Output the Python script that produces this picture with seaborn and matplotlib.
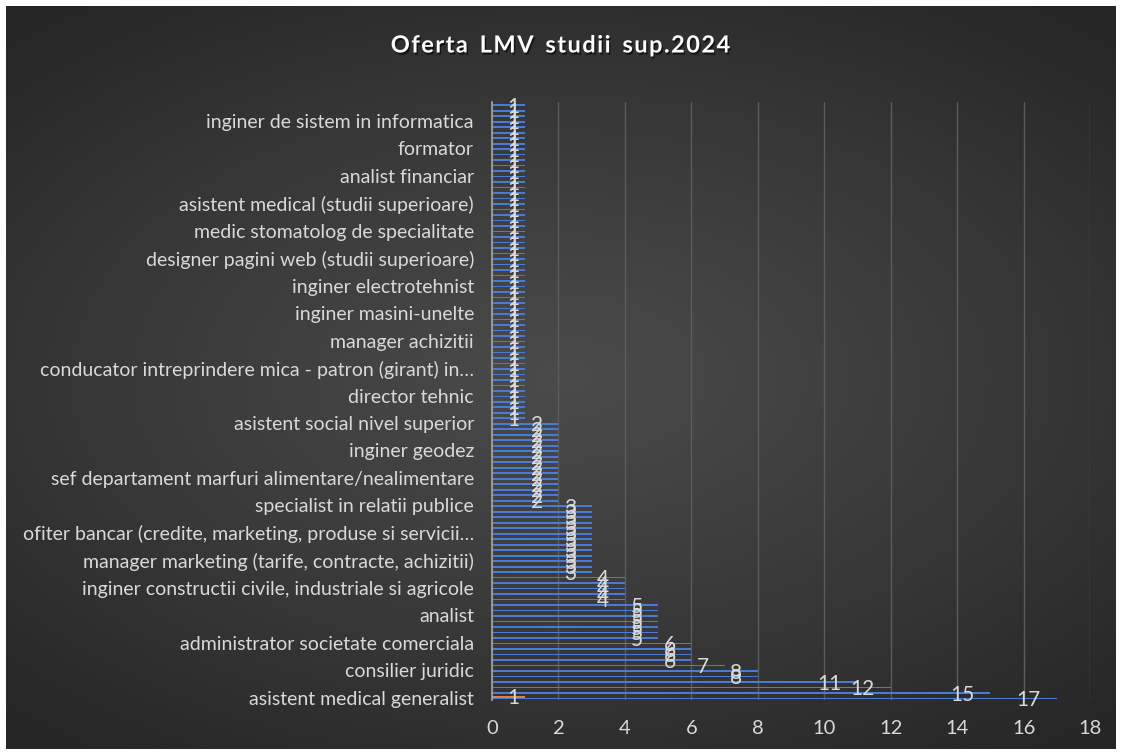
import numpy as np
import pandas as pd
import matplotlib
matplotlib.use("Agg")
import matplotlib.pyplot as plt
import matplotlib.patheffects as pe
import seaborn as sns

# Valorile seriei albastre, de jos in sus (109 ocupatii)
valori = [
    17, 15, 12, 11, 8, 8, 7, 6, 6, 6,
    6, 5, 5, 5, 5, 5, 5, 5, 4, 4,
    4, 4, 4, 3, 3, 3, 3, 3, 3, 3,
    3, 3, 3, 3, 3, 3, 2, 2, 2, 2,
    2, 2, 2, 2, 2, 2, 2, 2, 2, 2,
    2, 1, 1, 1, 1, 1, 1, 1, 1, 1,
    1, 1, 1, 1, 1, 1, 1, 1, 1, 1,
    1, 1, 1, 1, 1, 1, 1, 1, 1, 1,
    1, 1, 1, 1, 1, 1, 1, 1, 1, 1,
    1, 1, 1, 1, 1, 1, 1, 1, 1, 1,
    1, 1, 1, 1, 1, 1, 1, 1, 1,
]
# A doua serie (portocalie): o singura valoare, pe prima ocupatie
serie2_poz = [0]
serie2_val = [1]

# Etichetele vizibile pe axa (din 5 in 5, de jos in sus)
etichete_poz = [0, 5, 10, 15, 20, 25, 30, 35, 40, 45, 50,
                55, 60, 65, 70, 75, 80, 85, 90, 95, 100, 105]
etichete = [
    "asistent medical generalist",
    "consilier juridic",
    "administrator societate comerciala",
    "analist",
    "inginer constructii civile, industriale si agricole",
    "manager marketing (tarife, contracte, achizitii)",
    "ofiter bancar (credite, marketing, produse si servicii\u2026",
    "specialist in relatii publice",
    "sef departament marfuri alimentare/nealimentare",
    "inginer geodez",
    "asistent social nivel superior",
    "director tehnic",
    "conducator intreprindere mica - patron (girant) in\u2026",
    "manager achizitii",
    "inginer masini-unelte",
    "inginer electrotehnist",
    "designer pagini web (studii superioare)",
    "medic stomatolog de specialitate",
    "asistent medical (studii superioare)",
    "analist financiar",
    "formator",
    "inginer de sistem in informatica",
]

df = pd.concat([
    pd.DataFrame({"poz": range(len(valori)), "val": valori, "serie": "s1"}),
    pd.DataFrame({"poz": serie2_poz, "val": serie2_val, "serie": "s2"}),
])

sns.set_style("dark")
plt.rcParams["font.family"] = ["Lato", "DejaVu Sans"]

fig = plt.figure(figsize=(11.22, 7.55), dpi=100, facecolor="white")

# fundal cu gradient radial
bg = fig.add_axes([6 / 1122, 6 / 755, 1110 / 1122, 743 / 755])
yy, xx = np.mgrid[-1:1:300j, -1:1:450j]
r = np.sqrt((xx * 0.95) ** 2 + (yy * 1.1) ** 2)
bg.imshow(np.clip(r, 0, 1.4), cmap=matplotlib.colors.LinearSegmentedColormap.from_list(
    "g", ["#4b4b4b", "#3a3a3a", "#262626"]), aspect="auto", extent=[0, 1, 0, 1])
bg.set_axis_off()

ax = fig.add_axes([492 / 1122, 1 - 700.4 / 755, 598 / 1122, 598.8 / 755])
ax.patch.set_alpha(0)

sns.barplot(data=df, x="val", y="poz", hue="serie", orient="y",
            hue_order=["s1", "s2"], palette=["#4a7bd4", "#ED7D31"],
            width=0.62, dodge=True, legend=False, ax=ax, zorder=3,
            linewidth=0, saturation=1)

ax.set_ylim(-0.5, len(valori) - 0.5)
ax.set_xlim(0, 18)
ax.set_xticks(range(0, 19, 2))
ax.set_yticks(etichete_poz)
ax.set_yticklabels(etichete)
ax.set_xlabel("")
ax.set_ylabel("")
ax.tick_params(axis="x", colors="#d9d9d9", labelsize=14.5, length=0, pad=14)
ax.tick_params(axis="y", colors="#d9d9d9", labelsize=14, length=0, pad=13)
ax.grid(axis="x", color="#5c5c5c", lw=1, zorder=0)
ax.grid(axis="y", visible=False)
for s in ["top", "right", "bottom"]:
    ax.spines[s].set_visible(False)
ax.spines["left"].set_color("#a6a6a6")
ax.spines["left"].set_linewidth(1.2)
ax.spines["left"].set_zorder(4)


def decalaj(v):
    # eticheta sta putin in interiorul capatului barei
    if v == 1:
        return 0.37
    return 0.85 if v >= 10 else 0.65


# etichete de date
for p, v in enumerate(valori):
    ax.text(v - decalaj(v), p - 0.45, str(v), ha="center", va="center",
            color="#d9d9d9", fontsize=15, zorder=5)
for p, v in zip(serie2_poz, serie2_val):
    ax.text(v - decalaj(v), p - 0.15, str(v), ha="center", va="center",
            color="#d9d9d9", fontsize=15, zorder=5)

titlu = "Oferta LMV studii sup.2024"
fig.text(0.5, 1 - 45 / 755, "\u200a".join(titlu).replace("\u200a \u200a", "\u2002"),
         ha="center", va="center", color="white", fontsize=17, fontweight="bold",
         path_effects=[pe.withSimplePatchShadow(offset=(1, -1.5), shadow_rgbFace="black", alpha=0.6)])

fig.savefig("out.png", dpi=100, facecolor="white")
